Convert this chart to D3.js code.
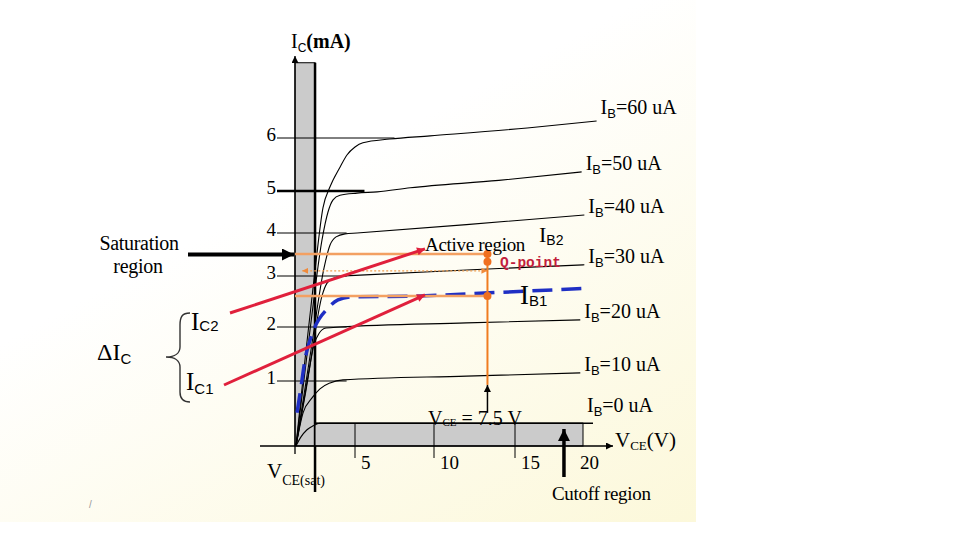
<!DOCTYPE html>
<html>
<head>
<meta charset="utf-8">
<script src="https://cdn.jsdelivr.net/npm/d3@7"></script>
<style>
  html, body { margin: 0; padding: 0; background: #fff; }
  svg { display: block; }
</style>
</head>
<body>
<svg id="chart" width="960" height="540"></svg>
<script>
// output curves, points are [VCE (V), IC (mA)]
const ibNames = ["60", "50", "40", "30", "20", "10", "0"];
const ib60 = [[0.08,0],[0.83,1.39],[1.67,3.14],[2.33,4.6],[2.92,5.08],[3.75,5.45],[4.33,5.68],[5.0,5.83],[5.5,5.91],[7.2,5.98],[9.75,6.04],[15.9,6.19],[21.0,6.32]];
const ib50 = [[0.08,0],[1.25,1.94],[2.25,3.84],[2.75,4.5],[3.17,4.79],[3.75,4.9],[5.13,4.95],[6.4,4.98],[8.5,5.06],[14,5.2],[19.9,5.36]];
const ib40 = [[0.08,0],[1.33,1.57],[2.42,3.19],[2.92,3.72],[3.42,3.91],[4.17,3.98],[5.13,4.0],[12,4.2],[20.1,4.43]];
const ib30 = [[0.08,0],[1.25,1.3],[2.25,2.61],[2.67,2.86],[3.17,2.95],[4.17,3.0],[5.32,3.02],[12,3.14],[20.1,3.26]];
const ib20 = [[0.08,0],[0.92,0.86],[1.58,1.67],[2.0,1.88],[2.58,1.98],[3.75,2.0],[12,2.08],[19.8,2.14]];
const ib10 = [[0.08,0],[0.67,0.51],[1.42,0.74],[2.08,0.88],[2.92,0.97],[4.0,1.02],[12,1.09],[19.8,1.15]];
const ib0  = [[0.08,0],[0.5,0.14],[1.0,0.25],[1.5,0.31],[2.08,0.35],[20,0.35]];
const ibCurves = [ib60, ib50, ib40, ib30, ib20, ib10, ib0];

// dashed IB1 curve
const ib1 = [[0.17,0.51],[0.5,0.91],[0.83,1.39],[1.5,1.91],[2.75,2.37],[3.58,2.53],[4.75,2.59],[9.1,2.61],[13.4,2.67],[20.4,2.76]];

const yTicks = [1, 2, 3, 4, 5, 6];
const xTicks = [5, 10, 15, 20];

// operating point and regions
const qVce = 13.3, qIc = 3.33, ic2 = 3.51, ic1 = 2.61, dotIc = 3.12;
const satVce = 1.67, satTop = 7.42, cutIc = 0.35, cutArrowVce = 18.6;

// the drawing uses uneven tick spacing, so both scales are piecewise
const x = d3.scaleLinear().domain([0, 5, 10, 15, 20]).range([295, 355, 434, 515, 583]);
const y = d3.scaleLinear().domain([0, 1, 2, 3, 4, 5, 6]).range([446, 381, 327, 276, 233, 191, 138]);

const serif = "'Liberation Serif', 'Times New Roman', serif";
const sans = "'Liberation Sans', Arial, sans-serif";

const svg = d3.select("#chart");
const defs = svg.append("defs");

const grad = defs.append("linearGradient").attr("id", "bg")
  .attr("x1", "50%").attr("y1", "30%").attr("x2", "100%").attr("y2", "100%");
grad.append("stop").attr("offset", "0%").attr("stop-color", "#ffffff");
grad.append("stop").attr("offset", "100%").attr("stop-color", "#fcf8da");

function marker(id, color, w, h) {
  defs.append("marker").attr("id", id)
    .attr("viewBox", "0 0 10 10").attr("refX", 10).attr("refY", 5)
    .attr("markerUnits", "userSpaceOnUse")
    .attr("markerWidth", w).attr("markerHeight", h)
    .attr("orient", "auto-start-reverse")
    .append("path").attr("d", "M0,0L10,5L0,10Z").attr("fill", color);
}
marker("arRed", "#e0203c", 11, 8);
marker("arBlack", "#000", 9, 7);
marker("arBig", "#000", 16, 12);
marker("arOrange", "#f08a3a", 6, 6);

svg.append("rect").attr("width", 696).attr("height", 522).attr("fill", "url(#bg)");

const g = svg.append("g");

// saturation column
g.append("rect")
  .attr("x", x(0)).attr("y", y(satTop))
  .attr("width", x(satVce) - x(0)).attr("height", y(0) - y(satTop))
  .attr("fill", "#cbcbcb").attr("stroke", "#000").attr("stroke-width", 1);
g.append("line")
  .attr("x1", x(satVce)).attr("x2", x(satVce))
  .attr("y1", y(satTop)).attr("y2", 492)
  .attr("stroke", "#000").attr("stroke-width", 2.5);

// cutoff band
g.append("rect")
  .attr("x", x(satVce)).attr("y", y(cutIc))
  .attr("width", x(20) - x(satVce)).attr("height", y(0) - y(cutIc))
  .attr("fill", "#cbcbcb").attr("stroke", "#000").attr("stroke-width", 1);
g.append("line")
  .attr("x1", x(satVce)).attr("x2", x(20) + 10)
  .attr("y1", y(cutIc)).attr("y2", y(cutIc))
  .attr("stroke", "#000").attr("stroke-width", 1.5);

// axes
g.append("line")
  .attr("x1", 260).attr("x2", 613).attr("y1", y(0)).attr("y2", y(0))
  .attr("stroke", "#000").attr("stroke-width", 1.3)
  .attr("marker-end", "url(#arBlack)");
g.append("line")
  .attr("x1", x(0)).attr("x2", x(0)).attr("y1", 454).attr("y2", 56)
  .attr("stroke", "#000").attr("stroke-width", 1.3)
  .attr("marker-end", "url(#arBlack)");

// y ticks run into the curves
g.selectAll(".ytick")
  .data(yTicks)
  .enter()
    .append("line")
    .attr("class", "ytick")
    .attr("x1", 277)
    .attr("x2", d => d === 6 ? x(7.5) : d === 5 ? x(5.6) : x(4.3))
    .attr("y1", d => y(d)).attr("y2", d => y(d))
    .attr("stroke", "#000")
    .attr("stroke-width", d => d === 5 ? 2.5 : 1);

g.selectAll(".ylab")
  .data(yTicks)
  .enter()
    .append("text")
    .attr("x", 276)
    .attr("y", d => y(d) + 3)
    .attr("text-anchor", "end")
    .style("font-family", serif)
    .style("font-size", "19px")
    .text(d => d);

g.selectAll(".xtick")
  .data(xTicks.filter(d => d < 20))
  .enter()
    .append("line")
    .attr("x1", d => x(d)).attr("x2", d => x(d))
    .attr("y1", y(cutIc)).attr("y2", 458)
    .attr("stroke", "#000").attr("stroke-width", 1);

g.selectAll(".xlab")
  .data(xTicks)
  .enter()
    .append("text")
    .attr("x", d => d === 20 ? x(d) - 3 : x(d) + 6)
    .attr("y", 469)
    .style("font-family", serif)
    .style("font-size", "19px")
    .text(d => d);

// curves
const line = d3.line()
  .x(d => x(d[0]))
  .y(d => y(d[1]))
  .curve(d3.curveMonotoneX);

g.selectAll(".ib")
  .data(ibCurves)
  .enter()
    .append("path")
    .attr("d", d => line(d))
    .attr("fill", "none")
    .attr("stroke", "#000")
    .attr("stroke-width", 1.1);

g.append("path")
  .attr("d", line(ib1))
  .attr("fill", "none")
  .attr("stroke", "#1f2fc4")
  .attr("stroke-width", 3.5)
  .attr("stroke-dasharray", "20,9");

// text with a subscript
function sub(parent, x0, y0, main, subTxt, rest, o) {
  o = o || {};
  const size = o.size || 20, subSize = o.subSize || 13, drop = o.drop || 4;
  const t = parent.append("text").attr("x", x0).attr("y", y0)
    .attr("fill", "#000")
    .style("font-family", serif)
    .style("font-size", size + "px");
  t.append("tspan").text(main);
  t.append("tspan").attr("dy", drop)
    .style("font-family", o.subFont || sans)
    .style("font-size", subSize + "px").text(subTxt);
  if (rest) t.append("tspan").attr("dy", -drop)
    .style("font-weight", o.restWeight || null).text(rest);
  return t;
}

ibCurves.forEach((c, i) => {
  const last = c[c.length - 1];
  let lx = x(last[0]) + 4, ly = y(last[1]) - 2;
  if (i === 0) ly = y(last[1]) - 7;
  if (i === 6) { lx = x(20) + 4; ly = y(cutIc) - 11; }
  sub(g, lx, ly, "I", "B", "=" + ibNames[i] + " uA", {size: 20, subSize: 13, drop: 4});
});

// operating point lines
g.append("line")
  .attr("x1", x(0)).attr("x2", x(qVce)).attr("y1", y(ic2)).attr("y2", y(ic2))
  .attr("stroke", "#f3a062").attr("stroke-width", 2.5);
g.append("line")
  .attr("x1", x(0)).attr("x2", x(qVce)).attr("y1", y(ic1)).attr("y2", y(ic1))
  .attr("stroke", "#f3a062").attr("stroke-width", 2.5);
g.append("line")
  .attr("x1", x(0.6)).attr("x2", x(qVce)).attr("y1", y(dotIc)).attr("y2", y(dotIc))
  .attr("stroke", "#f0a050").attr("stroke-width", 1.3)
  .attr("stroke-dasharray", "2,2")
  .attr("marker-start", "url(#arOrange)")
  .attr("marker-end", "url(#arOrange)");
g.append("line")
  .attr("x1", x(qVce)).attr("x2", x(qVce)).attr("y1", y(ic2)).attr("y2", y(0.94))
  .attr("stroke", "#f07c20").attr("stroke-width", 2);
g.selectAll(".qdot")
  .data([ic2, qIc, ic1])
  .enter()
    .append("circle")
    .attr("cx", x(qVce)).attr("cy", d => y(d))
    .attr("r", 4)
    .attr("fill", "#f07020");

g.append("line")
  .attr("x1", x(qVce)).attr("x2", x(qVce)).attr("y1", y(0.51)).attr("y2", y(0.94))
  .attr("stroke", "#000").attr("stroke-width", 1.5)
  .attr("marker-end", "url(#arBlack)");

// red pointers from the IC labels
g.append("line")
  .attr("x1", 230).attr("y1", 313).attr("x2", x(9.43)).attr("y2", y(ic2 + 0.12))
  .attr("stroke", "#e0203c").attr("stroke-width", 3)
  .attr("marker-end", "url(#arRed)");
g.append("line")
  .attr("x1", 224).attr("y1", 385).attr("x2", x(9.43)).attr("y2", y(ic1 + 0.02))
  .attr("stroke", "#e0203c").attr("stroke-width", 3)
  .attr("marker-end", "url(#arRed)");

// region arrows
g.append("line")
  .attr("x1", 188).attr("x2", x(0) - 1).attr("y1", y(3.5)).attr("y2", y(3.5))
  .attr("stroke", "#000").attr("stroke-width", 4)
  .attr("marker-end", "url(#arBig)");
g.append("line")
  .attr("x1", x(cutArrowVce)).attr("x2", x(cutArrowVce)).attr("y1", 477).attr("y2", 429)
  .attr("stroke", "#000").attr("stroke-width", 3.5)
  .attr("marker-end", "url(#arBig)");

// brace
g.append("path")
  .attr("d", "M190,313 C182,313 180,317 180,325 L180,347 C180,353 175,357 166,357 C175,357 180,361 180,367 L180,392 C180,399 183,402 190,402")
  .attr("fill", "none").attr("stroke", "#333").attr("stroke-width", 1.4);

// labels
sub(g, 291, 48, "I", "C", "(mA)", {size: 20, subSize: 12, drop: 4, restWeight: "bold"});
sub(g, 615, 447, "V", "CE", "(V)", {size: 21, subSize: 13, drop: 3, subFont: serif});
sub(g, 267, 478, "V", "CE(sat)", null, {size: 21, subSize: 14, drop: 7, subFont: serif});
sub(g, 428, 425, "V", "CE", " = 7.5 V", {size: 20, subSize: 11, drop: 1, subFont: serif});
sub(g, 97, 360, "\u0394I", "C", null, {size: 24, subSize: 15, drop: 4});
sub(g, 191, 330, "I", "C2", null, {size: 25, subSize: 15, drop: 1});
sub(g, 186, 390, "I", "C1", null, {size: 25, subSize: 15, drop: 4});
sub(g, 539, 242, "I", "B2", null, {size: 22, subSize: 14, drop: 3});
sub(g, 520, 304, "I", "B1", null, {size: 27, subSize: 15, drop: 2});

const words = [
  ["Saturation", 139, 250, "middle", 20],
  ["region", 138, 273, "middle", 20],
  ["Active region", 425, 251, "start", 19],
  ["Cutoff region", 552, 500, "start", 19]
];
g.selectAll(".word")
  .data(words)
  .enter()
    .append("text")
    .attr("x", d => d[1]).attr("y", d => d[2])
    .attr("text-anchor", d => d[3])
    .style("font-family", serif)
    .style("font-size", d => d[4] + "px")
    .style("letter-spacing", "-0.3px")
    .text(d => d[0]);

g.append("text")
  .attr("x", 500).attr("y", 267)
  .attr("fill", "#c21e3c")
  .style("font-family", "'Liberation Mono', 'DejaVu Sans Mono', monospace")
  .style("font-weight", "bold")
  .style("font-size", "14.5px")
  .text("Q-point");

g.append("text")
  .attr("x", 89).attr("y", 508)
  .attr("fill", "#999")
  .style("font-family", sans)
  .style("font-size", "10px")
  .text("/");
</script>
</body>
</html>
